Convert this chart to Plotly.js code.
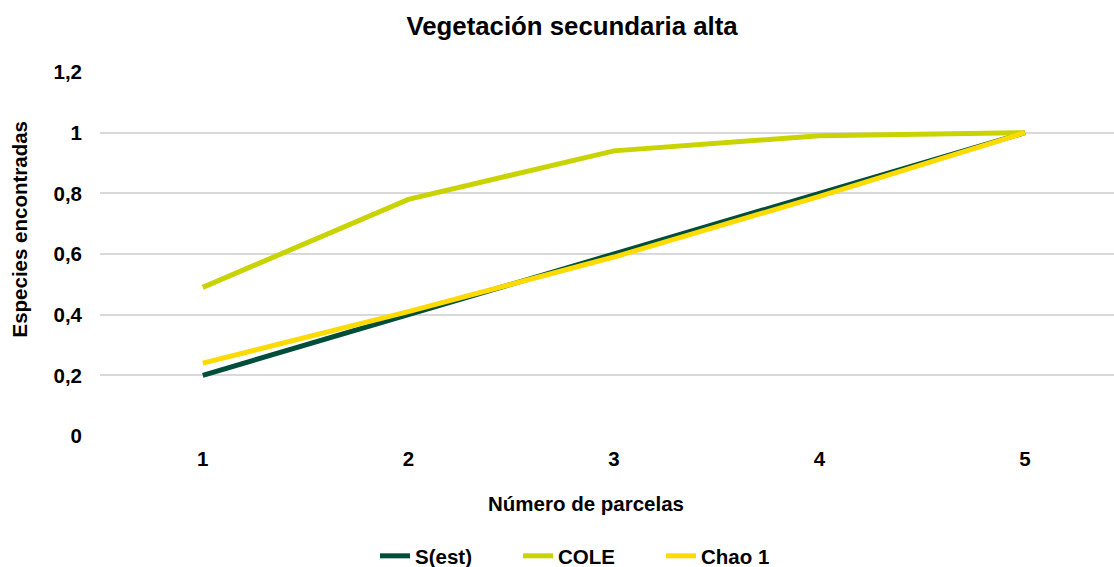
<!DOCTYPE html>
<html>
<head>
<meta charset="utf-8">
<script src="https://cdn.plot.ly/plotly-3.0.1.min.js"></script>
<style>html,body{margin:0;padding:0;background:#fff;}#chart{width:1114px;height:567px;}</style>
</head>
<body>
<div id="chart"></div>
<script>
var parcelas = [1, 2, 3, 4, 5];
var sEst = [0.2, 0.4, 0.6, 0.8, 1.0];
var cole = [0.49, 0.78, 0.94, 0.99, 1.0];
var chao1 = [0.24, 0.41, 0.59, 0.79, 1.0];
var yTicks = [0, 0.2, 0.4, 0.6, 0.8, 1, 1.2];
var yTickText = ['0', '0,2', '0,4', '0,6', '0,8', '1', '1,2'];

var fam = 'Liberation Sans, Arial, sans-serif';
var fs = 20.5;
function tr(name, y, color) {
  return {x: parcelas, y: y, name: name, type: 'scatter', mode: 'lines',
    line: {color: color, width: 5}, hoverinfo: 'skip'};
}
var data = [tr('S(est)', sEst, '#004D3A'), tr('COLE', cole, '#C9D300'), tr('Chao 1', chao1, '#FDDA00')];
var layout = {
  width: 1114, height: 567,
  margin: {l: 100, r: 0, t: 72, b: 131, autoexpand: false},
  paper_bgcolor: '#fff', plot_bgcolor: '#fff',
  title: {text: '<b>Vegetación secundaria alta</b>', x: 572 / 1114, xanchor: 'center', y: 0.955, yanchor: 'middle',
    font: {family: fam, size: 25.8, color: '#000'}},
  xaxis: {range: [0.5, 5.433], tickvals: parcelas, ticktext: parcelas.map(String),
    showgrid: false, zeroline: false, showline: false, ticks: '',
    ticklabelstandoff: 8,
    tickfont: {family: fam, size: fs, color: '#000', weight: 'bold'}},
  yaxis: {range: [0, 1.2], tickvals: yTicks, ticktext: yTickText,
    showgrid: true, gridcolor: '#D9D9D9', gridwidth: 2, zeroline: false, showline: false, ticks: '',
    ticklabelstandoff: 17,
    tickfont: {family: fam, size: fs, color: '#000', weight: 'bold'}},
  annotations: [
    {text: '<b>Número de parcelas</b>', xref: 'paper', yref: 'paper', x: (586 - 100) / 1014, y: -(503 - 436) / 364,
      xanchor: 'center', yanchor: 'middle', showarrow: false, font: {family: fam, size: fs, color: '#000'}},
    {text: '<b>Especies encontradas</b>', xref: 'paper', yref: 'paper', x: -(100 - 18.5) / 1014, y: (436 - 229) / 364,
      xanchor: 'center', yanchor: 'middle', textangle: -90, showarrow: false, font: {family: fam, size: fs, color: '#000'}}
  ],
  showlegend: true,
  legend: {orientation: 'h', x: (375 - 100) / 1014, xanchor: 'left', y: -(556 - 436) / 364, yanchor: 'middle',
    entrywidth: 98, entrywidthmode: 'pixels',
    font: {family: fam, size: fs, color: '#000', weight: 'bold'}, tracegroupgap: 0}
};
Plotly.newPlot('chart', data, layout, {displayModeBar: false, staticPlot: true});
</script>
</body>
</html>
